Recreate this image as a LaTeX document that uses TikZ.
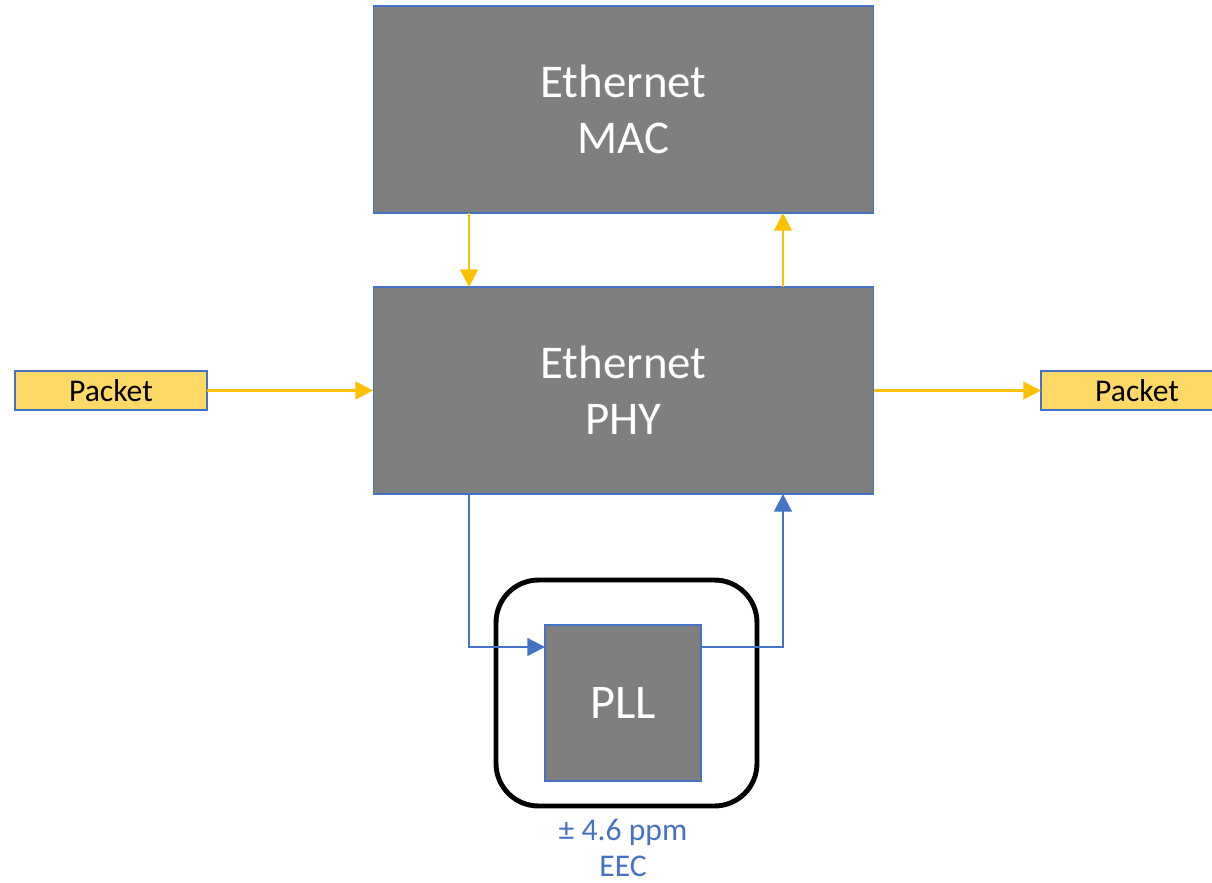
\documentclass[tikz,border=0pt]{standalone}
\usepackage{fontspec}
\setmainfont{Carlito}
\usetikzlibrary{arrows.meta}
\definecolor{boxgray}{HTML}{7F7F7F}
\definecolor{edgeblue}{HTML}{4472C4}
\definecolor{pktfill}{HTML}{FFD966}
\definecolor{dataylw}{HTML}{FFC000}
\tikzset{
  block/.style={draw=edgeblue, line width=0.6pt, fill=boxgray, text=white,
    align=center, outer sep=0pt, inner sep=0pt,
    font=\fontsize{26.7}{31.8}\selectfont},
  packet/.style={draw=edgeblue, line width=0.9pt, fill=pktfill, text=black,
    outer sep=0pt, inner sep=0pt, minimum width=3.84cm, minimum height=0.78cm,
    font=\fontsize{18}{21}\selectfont},
  dataflow/.style={draw=dataylw, line width=1.3pt,
    -{Triangle[length=10pt,width=10pt]}},
  clockflow/.style={draw=edgeblue, line width=1.3pt,
    -{Triangle[length=10pt,width=10pt]}},
  eecframe/.style={draw=black, line width=2.8pt, rounded corners=0.85cm,
    minimum width=5.22cm, minimum height=4.52cm, outer sep=0pt, inner sep=0pt},
}
\begin{document}
\begin{tikzpicture}[x=0.02cm, y=-0.02cm]
  \useasboundingbox (0,0) rectangle (1212,882);
  \clip (0,0) rectangle (1212,882);

  % main blocks
  \node[block, minimum width=10.02cm, minimum height=4.14cm] (mac) at (623.5,109.5) {Ethernet\\MAC};
  \node[block, minimum width=10.02cm, minimum height=4.14cm] (phy) at (623.5,390.5) {Ethernet\\PHY};

  % packets in and out
  \node[packet] (pin)  at (111,390.5)  {Packet};
  \node[packet] (pout) at (1137,390.5) {Packet};

  % EEC frame with the PLL inside
  \node[eecframe] (eec) at (626.5,693) {};
  \node[block, minimum width=3.12cm, minimum height=3.12cm,
        font=\fontsize{27.5}{32}\selectfont] (pll) at (623,703) {PLL};
  \node[text=edgeblue, align=center, font=\fontsize{18}{20.5}\selectfont]
        (eeclabel) at (623,848) {± 4.6 ppm\\EEC};

  % data path
  \draw[dataflow] ([xshift=1.92cm]mac.south west) -- ([xshift=1.92cm]phy.north west);
  \draw[dataflow] ([xshift=8.2cm]phy.north west) -- ([xshift=8.2cm]mac.south west);
  \draw[dataflow] (pin.east) -- (pin.east -| phy.west);
  \draw[dataflow] (phy.east |- pout.west) -- (pout.west);

  % clock recovery loop
  \draw[clockflow] ([xshift=1.92cm]phy.south west) |- ([yshift=-0.44cm]pll.north west);
  \draw[clockflow] ([yshift=-0.44cm]pll.north east) -| ([xshift=8.2cm]phy.south west);
\end{tikzpicture}
\end{document}
